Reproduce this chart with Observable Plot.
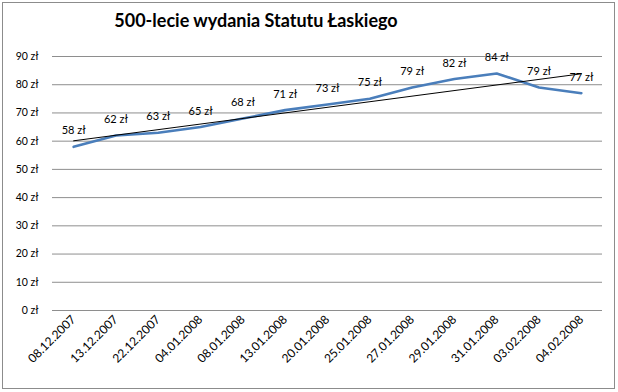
<!DOCTYPE html>
<html><head><meta charset="utf-8">
<script src="https://cdn.jsdelivr.net/npm/d3@7"></script>
<script src="https://cdn.jsdelivr.net/npm/@observablehq/plot@0.6"></script>
<style>
body{margin:0;background:#fff;font-family:Lato,"Open Sans",sans-serif;}
#wrap{position:relative;width:618px;height:392px;}
#frame{position:absolute;left:2px;top:2px;width:611px;height:385px;border:1px solid #8c8c8c;box-sizing:content-box;pointer-events:none;}
#title{position:absolute;left:0;top:9px;width:512px;text-align:center;font:bold 18px Lato,"Open Sans",sans-serif;color:#000;}
#chart{position:absolute;left:0;top:0;}
</style></head>
<body><div id="wrap"><div id="chart"></div><div id="title">500-lecie wydania Statutu Łaskiego</div><div id="frame"></div></div>
<script>
const dates = ["08.12.2007","13.12.2007","22.12.2007","04.01.2008","08.01.2008","13.01.2008","20.01.2008","25.01.2008","27.01.2008","29.01.2008","31.01.2008","03.02.2008","04.02.2008"];
const prices = [58,62,63,65,68,71,73,75,79,82,84,79,77];
const yTicks = [0,10,20,30,40,50,60,70,80,90];

const data = dates.map((d,i)=>({i, d, v: prices[i]}));

const chart = Plot.plot({
  width: 618, height: 392,
  marginTop: 56, marginBottom: 82, marginLeft: 52, marginRight: 16,
  style: {fontFamily: "Lato, 'Open Sans', sans-serif", fontSize: "10.5px", color: "#000", background: "transparent"},
  x: {domain: [-0.5, 12.5], label: null},
  y: {domain: [0, 90], label: null},
  marks: [
    Plot.ruleY(yTicks, {stroke: "#8e8e8e", strokeWidth: 1}),
    Plot.axisY({ticks: yTicks, tickFormat: d => `${d} zł`, tickSize: 0, tickPadding: 14, fontSize: 10.5, label: null}),
    Plot.axisX({ticks: d3.range(dates.length), tickFormat: i => dates[i], tickRotate: -45, tickSize: 0, tickPadding: 7, fontSize: 12, label: null}),
    Plot.lineY(data, {x: "i", y: "v", stroke: "#4a7ebb", strokeWidth: 2.6}),
    Plot.linearRegressionY(data, {x: "i", y: "v", ci: 0, stroke: "#000", strokeWidth: 1}),
    Plot.text(data, {x: "i", y: "v", text: d => `${d.v} zł`, dy: -16, fill: "#000", fontSize: 11})
  ]
});
document.getElementById("chart").appendChild(chart);
</script></body></html>
